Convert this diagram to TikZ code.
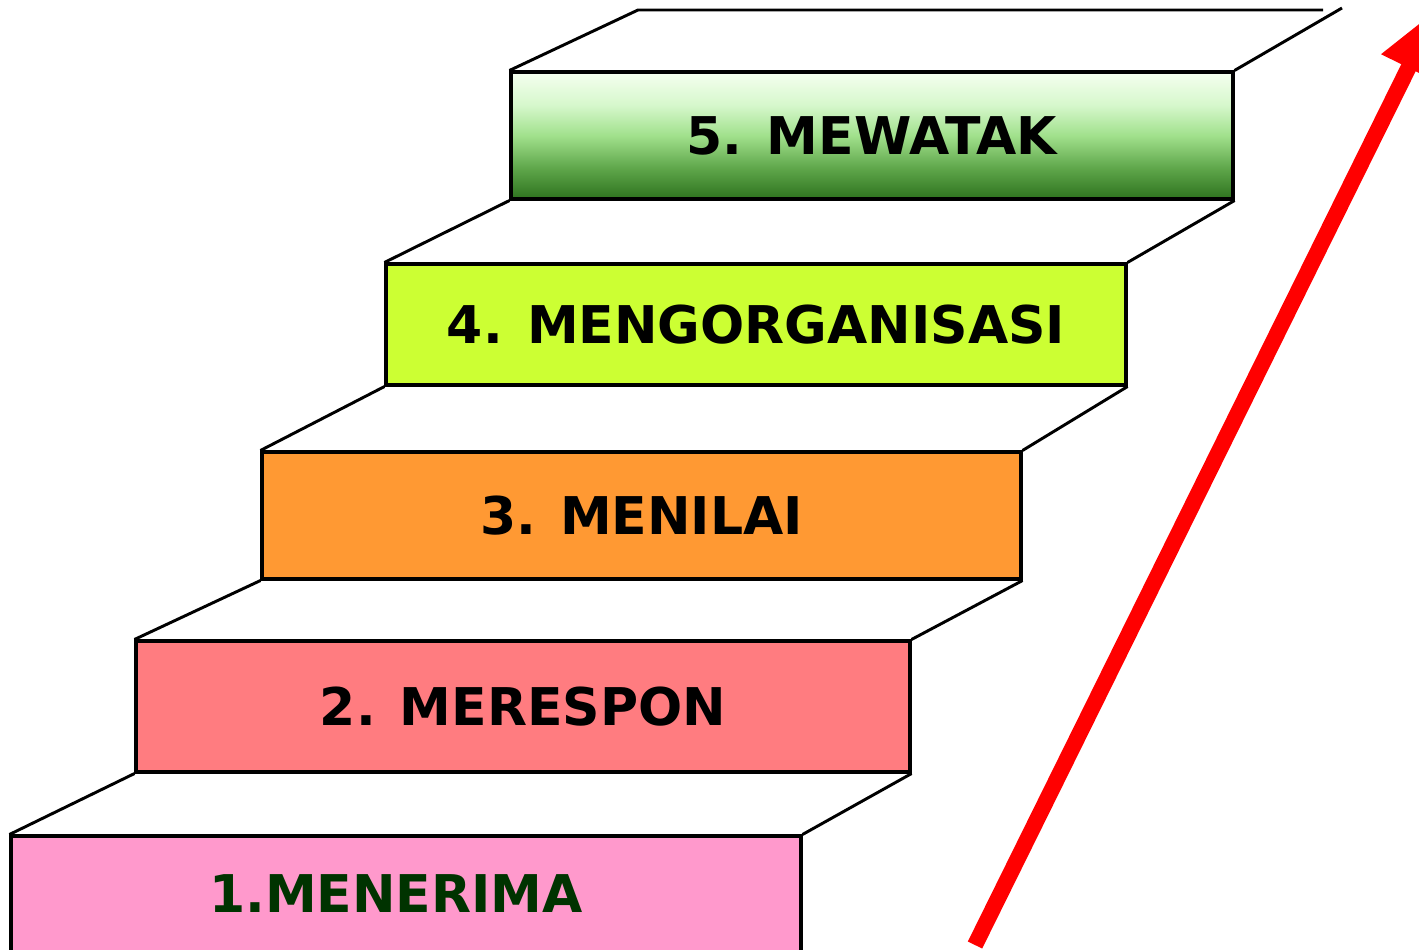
\documentclass[tikz,border=0pt]{standalone}
\usepackage{fontspec}
\setmainfont{DejaVu Sans}
\usetikzlibrary{arrows.meta}

\definecolor{pinkstep}{RGB}{255,153,204}
\definecolor{rosestep}{RGB}{255,124,128}
\definecolor{orangestep}{RGB}{255,153,51}
\definecolor{limestep}{RGB}{204,255,51}
\definecolor{darkgreentext}{RGB}{0,51,0}
\pgfdeclareverticalshading{greenstep}{100bp}{%
  rgb(0bp)=(0.18,0.45,0.12); rgb(25bp)=(0.18,0.45,0.12);
  rgb(37bp)=(0.37,0.65,0.29); rgb(50bp)=(0.63,0.88,0.55);
  rgb(62bp)=(0.84,0.97,0.80); rgb(75bp)=(0.96,1,0.94); rgb(100bp)=(0.96,1,0.94)}

\tikzset{every picture/.style={line width=0.75pt}}
\tikzset{
  stepbox/.style={draw=black, line width=2.3pt, rectangle, inner sep=0pt,
    font=\fontsize{39}{39}\selectfont\bfseries, text height=28.5pt, text depth=0pt},
  edge/.style={draw=black, line width=2.2pt},
}

\begin{document}
\begin{tikzpicture}[x=0.75pt,y=0.75pt,yscale=-1,xscale=1]
\useasboundingbox (0,0) rectangle (1419,949);
\clip (0,0) rectangle (1419,949);

%Steps
\node[stepbox, fill=pinkstep, minimum width=592.5pt, minimum height=95.25pt] (s1) at (406,899.5) {};
\node[text=darkgreentext, font=\fontsize{39}{39}\selectfont\bfseries, text height=28.5pt, text depth=0pt, inner sep=0pt] (t1) at (396,893) {1.MENERIMA};
\node[stepbox, fill=rosestep, minimum width=580.5pt, minimum height=98.25pt] (s2) at (523,706.5) {2. MERESPON};
\node[stepbox, fill=orangestep, minimum width=569.25pt, minimum height=95.25pt] (s3) at (641.5,515.5) {3. MENILAI};
\node[stepbox, fill=limestep, minimum width=555pt, minimum height=90.75pt] (s4) at (756,324.5) {4. MENGORGANISASI};
\node[stepbox, shading=greenstep, minimum width=541.5pt, minimum height=95.25pt] (s5) at (872,135.5) {5. MEWATAK};

%Treads
\draw[edge] (s1.north west) -- (s2.south west);
\draw[edge] (s1.north east) -- (s2.south east);
\draw[edge] (s2.north west) -- (s3.south west);
\draw[edge] (s2.north east) -- (s3.south east);
\draw[edge] (s3.north west) -- (s4.south west);
\draw[edge] (s3.north east) -- (s4.south east);
\draw[edge] (s4.north west) -- (s5.south west);
\draw[edge] (s4.north east) -- (s5.south east);

%Top landing
\coordinate (backleft) at (638,10);
\coordinate (backright) at (1323,10);
\coordinate (sideright) at (1342,8);
\draw[edge] (s5.north west) -- (backleft) -- (backright);
\draw[edge] (s5.north east) -- (sideright);

%Arrow
\coordinate (arrowfoot) at (975,945);
\coordinate (arrowtip) at (1438,8);
\draw[red, line width=12pt, -{Triangle[width=42pt,length=50pt]}] (arrowfoot) -- (arrowtip);

\end{tikzpicture}
\end{document}
